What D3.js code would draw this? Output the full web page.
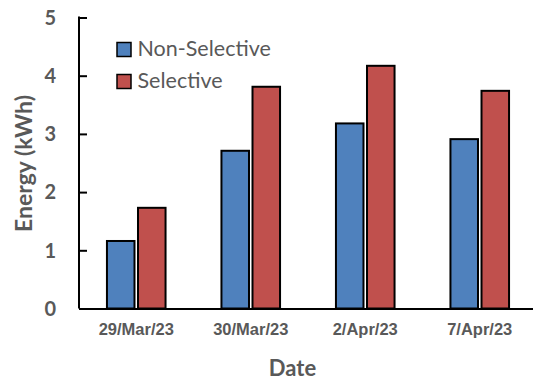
<!DOCTYPE html>
<html>
<head>
<meta charset="utf-8">
<script src="https://cdn.jsdelivr.net/npm/d3@7"></script>
<style>
  html, body { margin: 0; padding: 0; background: #fff; }
  svg { display: block; }
</style>
</head>
<body>
<svg id="chart" width="533" height="380"></svg>
<script>
// Daily energy use, non-selective vs selective operation
const dates = ["29/Mar/23", "30/Mar/23", "2/Apr/23", "7/Apr/23"];
const seriesNames = ["Non-Selective", "Selective"];
const nonSelective = [1.16, 2.71, 3.18, 2.91];
const selective = [1.73, 3.81, 4.17, 3.74];
const yTicks = [0, 1, 2, 3, 4, 5];
const colors = ["#4F81BD", "#C0504D"];

const svg = d3.select("#chart");
const textColor = "#595959";
const calibriLike = "Lato, 'Open Sans', sans-serif";
const arialLike = "'Liberation Sans', Arial, sans-serif";

const plot = { left: 79, right: 537, top: 17.5, bottom: 308.5 };

const x = d3.scaleBand().domain(dates).range([plot.left, plot.right]).paddingInner(0).paddingOuter(0);
const xs = d3.scaleBand().domain(seriesNames).range([0, 58.6]).paddingInner(0.113);
const y = d3.scaleLinear().domain([0, 5]).range([plot.bottom, plot.top]);

const rows = dates.map((d, i) => ({ date: d, values: [nonSelective[i], selective[i]] }));

// bars
const groups = svg.append("g").selectAll("g").data(rows).join("g")
  .attr("transform", d => `translate(${x(d.date) + x.bandwidth() / 2 - 29.3},0)`);
groups.selectAll("rect")
  .data(d => d.values.map((v, k) => ({ name: seriesNames[k], v, k })))
  .join("rect")
  .attr("x", d => xs(d.name))
  .attr("y", d => y(d.v))
  .attr("width", xs.bandwidth())
  .attr("height", d => y(0) - y(d.v))
  .attr("fill", d => colors[d.k])
  .attr("stroke", "#000")
  .attr("stroke-width", 2);

// y axis with inward ticks
const yAxis = d3.axisRight(y).tickValues(yTicks).tickSize(8).tickFormat("");
const yg = svg.append("g").attr("transform", `translate(${plot.left},0)`).call(yAxis);
yg.select(".domain").remove();
yg.selectAll(".tick line").attr("stroke", "#000").attr("stroke-width", 2);
svg.append("line").attr("x1", plot.left).attr("x2", plot.left).attr("y1", plot.top - 1).attr("y2", plot.bottom)
  .attr("stroke", "#000").attr("stroke-width", 2);

// y tick labels
svg.append("g").selectAll("text").data(yTicks).join("text")
  .attr("x", 56).attr("y", d => y(d)).attr("dy", "0.36em")
  .attr("text-anchor", "end")
  .attr("font-family", calibriLike).attr("font-weight", "bold").attr("font-size", 20)
  .attr("fill", textColor).text(d => d);

// x axis
const xAxis = d3.axisBottom(x).tickSize(0).tickPadding(15);
const xg = svg.append("g").attr("transform", `translate(0,${plot.bottom})`).call(xAxis);
xg.select(".domain").attr("stroke", "#000").attr("stroke-width", 2);
xg.selectAll(".tick text")
  .attr("font-family", arialLike).attr("font-weight", "bold").attr("font-size", 16.5)
  .attr("fill", textColor);

// axis titles
svg.append("text")
  .attr("transform", `translate(32,163.5) rotate(-90)`)
  .attr("text-anchor", "middle")
  .attr("font-family", calibriLike).attr("font-weight", "bold").attr("font-size", 23)
  .attr("fill", textColor).text("Energy (kWh)");

svg.append("text")
  .attr("x", 292.5).attr("y", 375.5)
  .attr("text-anchor", "middle")
  .attr("font-family", calibriLike).attr("font-weight", "bold").attr("font-size", 22)
  .attr("fill", textColor).text("Date");

// legend
const legend = svg.append("g").selectAll("g").data(seriesNames).join("g")
  .attr("transform", (d, i) => `translate(117,${42.5 + i * 32})`);
legend.append("rect")
  .attr("width", 14).attr("height", 14)
  .attr("fill", (d, i) => colors[i])
  .attr("stroke", "#000").attr("stroke-width", 1.5);
legend.append("text")
  .attr("x", 20.5).attr("y", 13.8)
  .attr("font-family", calibriLike).attr("font-size", 21.5)
  .attr("fill", textColor).text(d => d);
</script>
</body>
</html>
